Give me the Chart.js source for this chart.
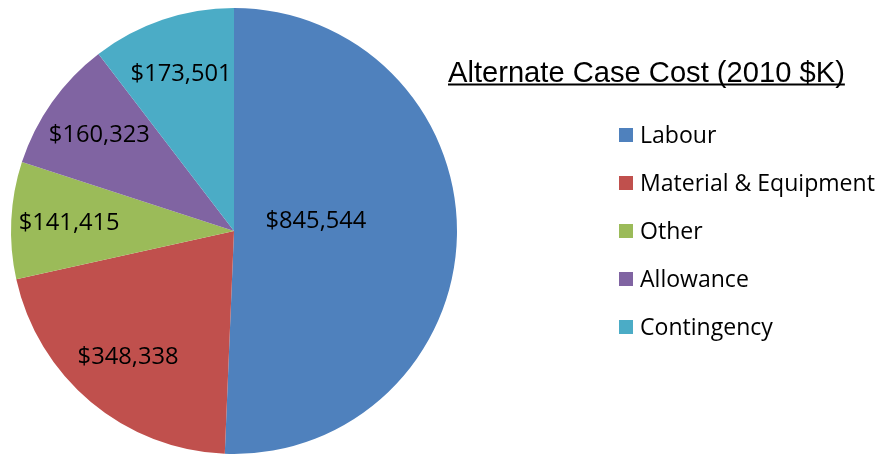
<!DOCTYPE html>
<html>
<head>
<meta charset="utf-8">
<script src="https://cdn.jsdelivr.net/npm/chart.js@4"></script>
<style>
  html, body { margin: 0; padding: 0; background: #fff; }
  #wrap { width: 879px; height: 455px; }
</style>
</head>
<body>
<div id="wrap"><canvas id="grafico" width="879" height="455"></canvas></div>
<script>
const categorias = ['Labour', 'Material & Equipment', 'Other', 'Allowance', 'Contingency'];
const custos = [845544, 348338, 141415, 160323, 173501];
const cores = ['#4F81BD', '#C0504D', '#9BBB59', '#8064A2', '#4BACC6'];
const titulo = 'Alternate Case Cost (2010 $K)';

const familia = '"Open Sans", sans-serif';

// acha o tamanho de fonte que dá a largura pedida
function ajustaFonte(ctx, texto, largura, fam) {
  ctx.font = '100px ' + fam;
  const w = ctx.measureText(texto).width;
  return (100 * largura / w).toFixed(2) + 'px ' + fam;
}

const fmt = (v) => '$' + v.toLocaleString('en-US');

// rótulos dentro das fatias
const rotulos = {
  id: 'rotulos',
  afterDatasetsDraw(chart) {
    const ctx = chart.ctx;
    const meta = chart.getDatasetMeta(0);
    const total = custos.reduce((a, b) => a + b, 0);
    ctx.save();
    ctx.font = ajustaFonte(ctx, fmt(173501), 101, familia);
    ctx.fillStyle = '#000';
    ctx.textAlign = 'center';
    ctx.textBaseline = 'middle';
    meta.data.forEach((arc, i) => {
      const p = arc.getProps(['x', 'y', 'startAngle', 'endAngle', 'outerRadius'], true);
      let ang = (p.startAngle + p.endAngle) / 2;
      let r = p.outerRadius * 0.74;
      if (custos[i] / total > 0.5) { r = p.outerRadius * 0.37; ang -= 0.14; }
      ctx.fillText(fmt(custos[i]), p.x + Math.cos(ang) * r, p.y + Math.sin(ang) * r);
    });
    ctx.restore();
  }
};

// título e legenda à direita
const legenda = {
  id: 'legenda',
  afterDraw(chart) {
    const ctx = chart.ctx;
    ctx.save();
    ctx.font = ajustaFonte(ctx, titulo, 397, '"Liberation Sans", Arial, sans-serif');
    ctx.fillStyle = '#000';
    ctx.textBaseline = 'alphabetic';
    ctx.textAlign = 'left';
    const w = ctx.measureText(titulo).width;
    ctx.fillText(titulo, 448, 82);
    ctx.fillRect(448, 83.5, w, 2);

    ctx.font = ajustaFonte(ctx, 'Material & Equipment', 235, familia);
    ctx.textBaseline = 'middle';
    categorias.forEach((c, i) => {
      const y = 135 + i * 48;
      ctx.fillStyle = cores[i];
      ctx.fillRect(619, y - 7, 14, 14);
      ctx.fillStyle = '#000';
      ctx.fillText(c, 640, y + 1);
    });
    ctx.restore();
  }
};

const config = {
  type: 'pie',
  data: {
    labels: categorias,
    datasets: [{
      data: custos,
      backgroundColor: cores,
      borderWidth: 0
    }]
  },
  options: {
    responsive: false,
    animation: false,
    layout: { padding: { left: 11, top: 8, bottom: 1, right: 422 } },
    plugins: {
      legend: { display: false },
      tooltip: { enabled: false }
    }
  },
  plugins: [rotulos, legenda]
};

const ctx = document.getElementById('grafico').getContext('2d');
new Chart(ctx, config);
</script>
</body>
</html>
